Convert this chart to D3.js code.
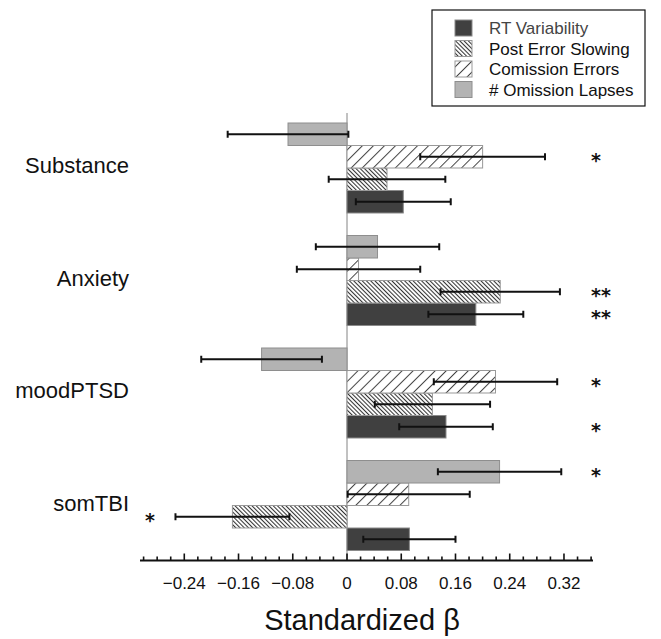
<!DOCTYPE html>
<html>
<head>
<meta charset="utf-8">
<script src="https://cdn.jsdelivr.net/npm/d3@7"></script>
<style>
  body { margin: 0; background: #fff; }
  svg { display: block; font-family: "Liberation Sans", Arial, sans-serif; }
</style>
</head>
<body>
<div id="chart"></div>
<script>
// Data
const categories = ["Substance", "Anxiety", "moodPTSD", "somTBI"];
const seriesNames = ["RT Variability", "Post Error Slowing", "Comission Errors", "# Omission Lapses"];

const rtVar      = [0.083, 0.190, 0.146, 0.092];
const rtVarErr   = [0.070, 0.070, 0.069, 0.068];
const rtVarSig   = ["", "**", "*", ""];

const pes        = [0.059, 0.226, 0.126, -0.169];
const pesErr     = [0.086, 0.088, 0.085, 0.084];
const pesSig     = ["", "**", "", "*"];

const commission    = [0.200, 0.017, 0.219, 0.091];
const commissionErr = [0.092, 0.091, 0.091, 0.090];
const commissionSig = ["*", "", "*", ""];

const omission    = [-0.087, 0.045, -0.126, 0.225];
const omissionErr = [0.089, 0.091, 0.089, 0.091];
const omissionSig = ["", "", "", "*"];

const majorTicks = [-0.24, -0.16, -0.08, 0, 0.08, 0.16, 0.24, 0.32];

const width = 661, height = 639;

const seriesData = [
  { name: seriesNames[0], key: "rt",   vals: rtVar,      errs: rtVarErr,      sig: rtVarSig },
  { name: seriesNames[1], key: "pes",  vals: pes,        errs: pesErr,        sig: pesSig },
  { name: seriesNames[2], key: "comm", vals: commission, errs: commissionErr, sig: commissionSig },
  { name: seriesNames[3], key: "om",   vals: omission,   errs: omissionErr,   sig: omissionSig }
];

const svg = d3.select("#chart").append("svg")
  .attr("width", width)
  .attr("height", height);

// patterns for hatched bars
const defs = svg.append("defs");
defs.append("pattern")
  .attr("id", "hatch-pes")
  .attr("patternUnits", "userSpaceOnUse")
  .attr("width", 3).attr("height", 3)
  .attr("patternTransform", "rotate(-45)")
  .call(p => {
    p.append("rect").attr("width", 3).attr("height", 3).attr("fill", "#fff");
    p.append("line").attr("x1", 0.5).attr("x2", 0.5).attr("y1", 0).attr("y2", 3)
      .attr("stroke", "#333").attr("stroke-width", 1.1);
  });
defs.append("pattern")
  .attr("id", "hatch-comm")
  .attr("patternUnits", "userSpaceOnUse")
  .attr("width", 7.8).attr("height", 7.8)
  .attr("patternTransform", "rotate(45)")
  .call(p => {
    p.append("rect").attr("width", 7.8).attr("height", 7.8).attr("fill", "#fff");
    p.append("line").attr("x1", 0.5).attr("x2", 0.5).attr("y1", 0).attr("y2", 7.8)
      .attr("stroke", "#444").attr("stroke-width", 1);
  });

const fills = { rt: "#404040", pes: "url(#hatch-pes)", comm: "url(#hatch-comm)", om: "#b3b3b3" };
const strokes = { rt: "#8a8a8a", pes: "#999", comm: "#999", om: "#8e8e8e" };

// scales
const x = d3.scaleLinear().domain([-0.3, 0.36]).range([143.6, 591.1]);

const y = d3.scaleBand()
  .domain(categories)
  .range([111.75, 561.75])
  .paddingInner(0.2)
  .paddingOuter(0.1);

// bars inside a group, top to bottom: omission, commission, PES, RT
const yInner = d3.scaleBand()
  .domain(["om", "comm", "pes", "rt"])
  .range([0, y.bandwidth()]);

// zero line
svg.append("line")
  .attr("x1", x(0)).attr("x2", x(0))
  .attr("y1", 113).attr("y2", 561)
  .attr("stroke", "#999").attr("stroke-width", 1.2);

// bars
const groups = svg.selectAll("g.series")
  .data(seriesData)
  .join("g")
  .attr("class", "series");

groups.selectAll("rect")
  .data(s => s.vals.map((v, i) => ({ key: s.key, v, cat: categories[i] })))
  .join("rect")
  .attr("x", d => x(Math.min(0, d.v)))
  .attr("width", d => Math.abs(x(d.v) - x(0)))
  .attr("y", d => y(d.cat) + yInner(d.key))
  .attr("height", yInner.bandwidth())
  .attr("fill", d => fills[d.key])
  .attr("stroke", d => strokes[d.key])
  .attr("stroke-width", 1);

// error bars
const errs = seriesData.flatMap(s => s.vals.map((v, i) => ({
  key: s.key, v, e: s.errs[i], sig: s.sig[i], cat: categories[i]
})));

const eb = svg.append("g").selectAll("g")
  .data(errs)
  .join("g")
  .attr("transform", d => `translate(0,${y(d.cat) + yInner(d.key) + yInner.bandwidth() / 2})`);

eb.append("line")
  .attr("x1", d => x(d.v - d.e)).attr("x2", d => x(d.v + d.e))
  .attr("stroke", "#111").attr("stroke-width", 2);
eb.append("line")
  .attr("x1", d => x(d.v - d.e)).attr("x2", d => x(d.v - d.e))
  .attr("y1", -3.5).attr("y2", 3.5)
  .attr("stroke", "#111").attr("stroke-width", 2);
eb.append("line")
  .attr("x1", d => x(d.v + d.e)).attr("x2", d => x(d.v + d.e))
  .attr("y1", -3.5).attr("y2", 3.5)
  .attr("stroke", "#111").attr("stroke-width", 2);

// significance stars
eb.filter(d => d.sig)
  .append("text")
  .attr("x", d => d.v < 0 ? 145 : 591)
  .attr("y", 10)
  .attr("font-family", "'DejaVu Sans', sans-serif")
  .attr("font-size", 19)
  .attr("font-weight", "bold")
  .attr("fill", "#111")
  .text(d => d.sig);

// category labels
svg.append("g").selectAll("text")
  .data(categories)
  .join("text")
  .attr("x", 129)
  .attr("y", d => y(d) + y.bandwidth() / 2 + 5)
  .attr("text-anchor", "end")
  .attr("font-size", 22)
  .attr("fill", "#111")
  .text(d => d);

// x axis, ticks pointing up
const axisY = 560.5;
const axisG = svg.append("g").attr("transform", `translate(0,${axisY})`);
axisG.append("line")
  .attr("x1", 140).attr("x2", 593)
  .attr("stroke", "#111").attr("stroke-width", 2);

const minorTicks = d3.range(-0.30, 0.3601, 0.02).map(v => +v.toFixed(2));
axisG.selectAll("line.minor")
  .data(minorTicks)
  .join("line")
  .attr("class", "minor")
  .attr("x1", d => x(d)).attr("x2", d => x(d))
  .attr("y1", 0)
  .attr("y2", d => majorTicks.some(m => Math.abs(m - d) < 1e-6) ? -7 : -4)
  .attr("stroke", "#111").attr("stroke-width", 1.6);

axisG.selectAll("text")
  .data(majorTicks)
  .join("text")
  .attr("x", d => x(d))
  .attr("y", 28)
  .attr("text-anchor", "middle")
  .attr("font-size", 17)
  .attr("fill", "#111")
  .text(d => d === 0 ? "0" : d3.format(".2f")(d));

svg.append("text")
  .attr("x", 362)
  .attr("y", 630)
  .attr("text-anchor", "middle")
  .attr("font-size", 29)
  .attr("fill", "#111")
  .text("Standardized β");

// legend
const legend = svg.append("g");
legend.append("rect")
  .attr("x", 432).attr("y", 10)
  .attr("width", 213).attr("height", 96)
  .attr("fill", "#fff").attr("stroke", "#111").attr("stroke-width", 1.2);

const legendY = d3.scalePoint().domain(seriesNames).range([28, 89.5]);
const li = legend.selectAll("g.item")
  .data(seriesData)
  .join("g")
  .attr("class", "item")
  .attr("transform", d => `translate(0,${legendY(d.name)})`);

li.append("rect")
  .attr("x", 455).attr("y", -8)
  .attr("width", 17).attr("height", 16)
  .attr("fill", d => fills[d.key])
  .attr("stroke", d => strokes[d.key]);

li.append("text")
  .attr("x", 489).attr("y", 6)
  .attr("font-size", 17)
  .attr("fill", d => d.key === "rt" ? "#444" : "#111")
  .text(d => d.name);
</script>
</body>
</html>
